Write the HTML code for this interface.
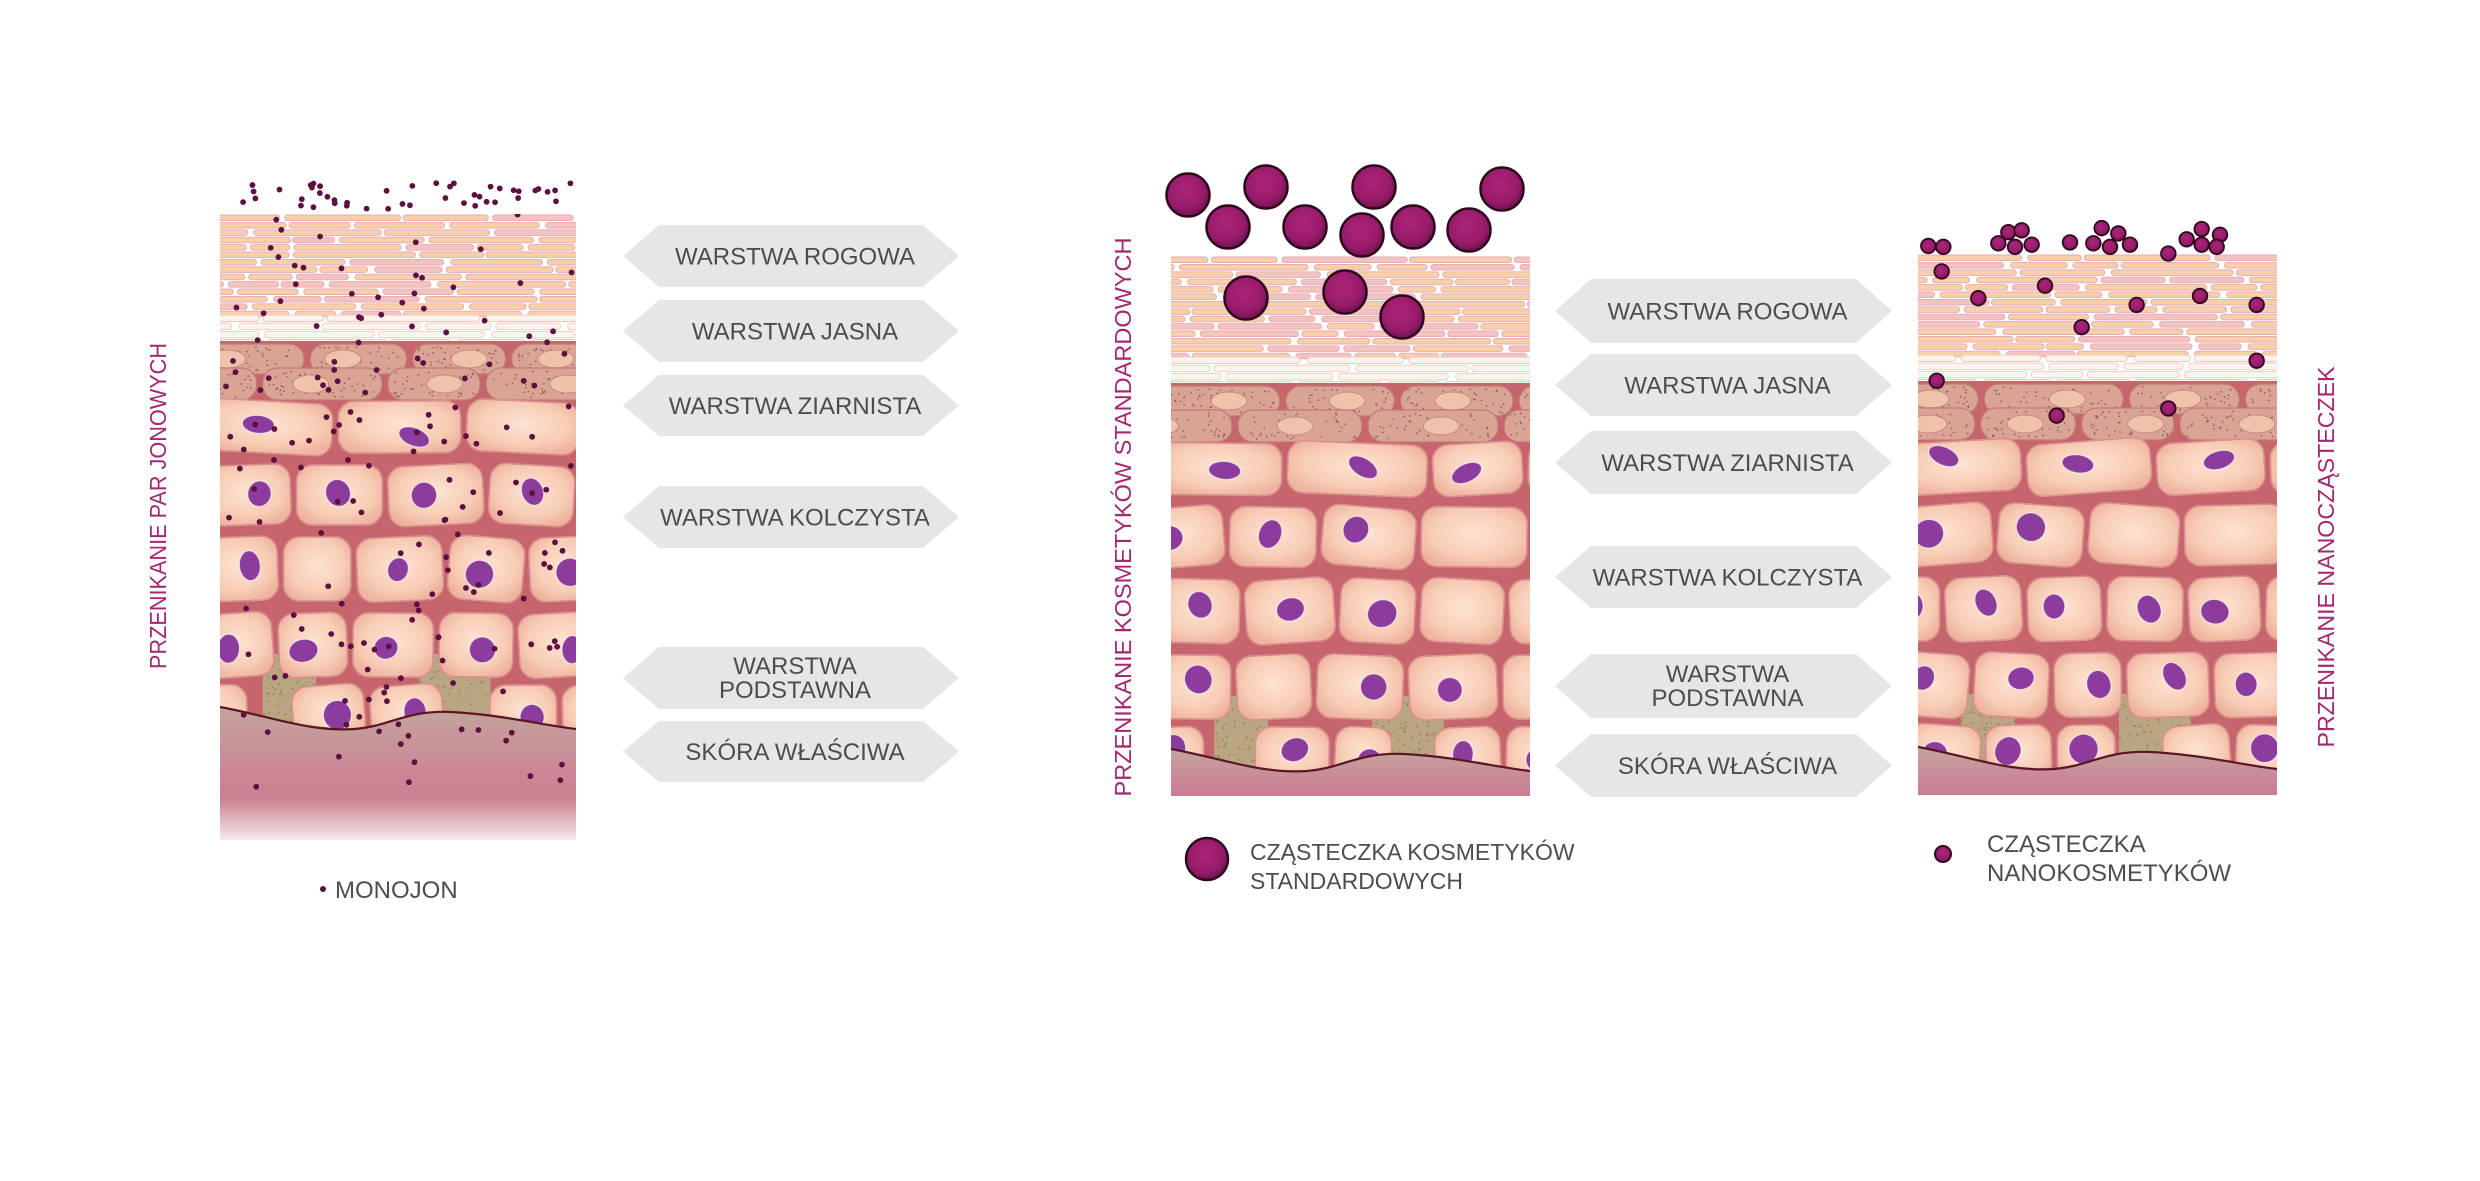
<!DOCTYPE html>
<html><head><meta charset="utf-8">
<style>
html,body{margin:0;padding:0;background:#fff;}
svg{display:block;}
text{font-family:"Liberation Sans","Noto Sans CJK SC",sans-serif;}
</style></head>
<body>
<svg id="s" xmlns="http://www.w3.org/2000/svg" width="2480" height="1181" viewBox="0 0 2480 1181">
<defs>
<radialGradient id="pg" cx="0.45" cy="0.4" r="0.6">
<stop offset="0" stop-color="#ad2479"/><stop offset="0.7" stop-color="#981c6a"/><stop offset="1" stop-color="#6e1250"/>
</radialGradient>
<radialGradient id="cg" cx="0.5" cy="0.45" r="0.6">
<stop offset="0" stop-color="#fde3d3"/><stop offset="0.65" stop-color="#f8cdb6"/><stop offset="1" stop-color="#eeb29d"/>
</radialGradient>
<linearGradient id="dg" x1="0" y1="0" x2="0" y2="1">
<stop offset="0" stop-color="#c3a59b"/><stop offset="0.5" stop-color="#cc8496"/><stop offset="1" stop-color="#c97884"/>
</linearGradient>
<linearGradient id="dg2" x1="0" y1="0" x2="0" y2="1">
<stop offset="0" stop-color="#c4a69c"/><stop offset="0.6" stop-color="#c98a98"/><stop offset="1" stop-color="#c97b92"/>
</linearGradient>
<linearGradient id="fade" x1="0" y1="0" x2="0" y2="1">
<stop offset="0" stop-color="#fff" stop-opacity="0"/><stop offset="1" stop-color="#fff" stop-opacity="1"/>
</linearGradient>
</defs>
<g id="skins"></g>
<g id="arrows"></g>
<g id="parts"></g>

<!-- vertical labels -->
<text transform="translate(166,506) rotate(-90)" text-anchor="middle" font-size="23" fill="#a3286f" textLength="326" lengthAdjust="spacingAndGlyphs">PRZENIKANIE PAR JONOWYCH</text>
<text transform="translate(1131,517) rotate(-90)" text-anchor="middle" font-size="23" fill="#a3286f" textLength="559" lengthAdjust="spacingAndGlyphs">PRZENIKANIE KOSMETYKÓW STANDARDOWYCH</text>
<text transform="translate(2334,557) rotate(-90)" text-anchor="middle" font-size="23" fill="#a3286f" textLength="381" lengthAdjust="spacingAndGlyphs">PRZENIKANIE NANOCZĄSTECZEK</text>

<!-- legends -->
<circle cx="323" cy="889" r="3" fill="#5c1040"/>
<text x="335" y="898" font-size="24" fill="#4d4d4d">MONOJON</text>
<circle cx="1207" cy="859" r="21" fill="url(#pg)" stroke="#2f0a1f" stroke-width="2.5"/>
<text x="1250" y="860" font-size="23" fill="#4d4d4d">CZĄSTECZKA KOSMETYKÓW</text>
<text x="1250" y="889" font-size="23" fill="#4d4d4d">STANDARDOWYCH</text>
<circle cx="1943" cy="854" r="8" fill="url(#pg)" stroke="#2f0a1f" stroke-width="2"/>
<text x="1987" y="852" font-size="24" fill="#4d4d4d">CZĄSTECZKA</text>
<text x="1987" y="881" font-size="24" fill="#4d4d4d">NANOKOSMETYKÓW</text>
</svg>
<script>
var NS="http://www.w3.org/2000/svg";
function el(t,a,p){var e=document.createElementNS(NS,t);for(var k in a)e.setAttribute(k,a[k]);if(p)p.appendChild(e);return e;}
function rng(s){return function(){s|=0;s=s+0x6D2B79F5|0;var t=Math.imul(s^s>>>15,1|s);t=t+Math.imul(t^t>>>7,61|t)^t;return((t^t>>>14)>>>0)/4294967296;};}
var defs=document.querySelector("defs");
function skin(x0,y0,W,H,seed,left){
 var R=rng(seed);
 var cid="c"+seed;
 var cp=el("clipPath",{id:cid},defs);el("rect",{x:0,y:0,width:W,height:H},cp);
 var g=el("g",{transform:"translate("+x0+","+y0+")","clip-path":"url(#"+cid+")"},document.getElementById("skins"));
 el("rect",{x:0,y:0,width:W,height:200,fill:"#fff"},g);
 // corneum stripes
 var i=0;
 for(var y=1;y<100;y+=7.4){var x=-R()*50;
  while(x<W){var l=35+R()*95;el("rect",{x:x,y:y,width:l,height:5.6,rx:2.8,fill:(R()<0.75?"#f9cfa8":"#f4c3bd"),stroke:"#e3a9b9","stroke-width":0.9},g);x+=l+2+R()*5;}i++;}
 for(var y=101;y<126;y+=8.2){var x=-R()*50;
  while(x<W){var l=50+R()*110;el("rect",{x:x,y:y,width:l,height:6.5,rx:3,fill:"#fcf2ee",stroke:"#f1c7c0","stroke-width":0.9},g);x+=l+3+R()*5;}}
 // granular + spinous matrix
 el("rect",{x:0,y:127,width:W,height:H,fill:"#c6666c"},g);
 var gr=[[128,30],[152,32]];
 gr.forEach(function(r,ri){var x=-R()*60-(ri?40:0);
  while(x<W){var l=90+R()*50;
   el("rect",{x:x,y:r[0]+2,width:l,height:r[1],rx:15,fill:"#daa494",stroke:"#c27a76","stroke-width":1.2},g);
   for(var k=0;k<45;k++)el("circle",{cx:x+6+R()*(l-12),cy:r[0]+5+R()*(r[1]-6),r:0.9,fill:"#6e4a48",opacity:0.7},g);
   el("ellipse",{cx:x+l*(0.3+R()*0.4),cy:r[0]+2+r[1]/2,rx:18,ry:9,fill:"#efc2ac",stroke:"#c98a80","stroke-width":1},g);
   x+=l+6;}});
 // basal greenish areas
 var bands=[[0.12,0.27],[0.56,0.76]];
 bands.forEach(function(b){el("rect",{x:W*b[0],y:440,width:W*(b[1]-b[0]),height:90,fill:"#b9a683"},g);
  for(var k=0;k<120;k++)el("circle",{cx:W*b[0]+R()*W*(b[1]-b[0]),cy:445+R()*70,r:1,fill:(R()<0.5?"#8a7a4a":"#d08a50"),opacity:0.7},g);});
 // cells
 var rows=[[184,58,95,150],[248,66,85,115],[320,70,72,95],[396,70,72,95],[468,62,62,85]];
 rows.forEach(function(r,ri){var x=-R()*50;
  while(x<W){var l=r[2]+R()*(r[3]-r[2]);
   var cx=x+l/2;
   if(ri==4){var skip=false;bands.forEach(function(b){if(cx>W*b[0]&&cx<W*b[1]&&R()<0.8)skip=true;});if(skip){x+=l*0.6;continue;}}
   var rot=(R()-0.5)*10;
   var cg=el("g",{transform:"rotate("+rot+","+cx+","+(r[0]+r[1]/2)+")"},g);
   el("rect",{x:x+3,y:r[0]+3,width:l-6,height:r[1]-6,rx:16,fill:"url(#cg)",stroke:"#d98f90","stroke-width":1.6},cg);
   if(R()<0.88){var rx=ri==0?16:10+R()*5,ry=ri==0?9:11+R()*4;
    el("ellipse",{cx:cx+(R()-0.5)*l*0.3,cy:r[0]+r[1]/2+(R()-0.5)*10,rx:rx,ry:ry,fill:"#8b3c9c",stroke:"#fff","stroke-width":1.2,"stroke-opacity":0.6,transform:"rotate("+((R()-0.5)*60)+","+cx+","+(r[0]+r[1]/2)+")"},cg);}
   x+=l;}});
 // dermis
 var p="M0 493 C"+(0.15*W)+" 503 "+(0.25*W)+" 518 "+(0.38*W)+" 515 C"+(0.48*W)+" 512 "+(0.52*W)+" 496 "+(0.65*W)+" 498 C"+(0.8*W)+" 501 "+(0.9*W)+" 511 "+W+" 515";
 el("path",{d:p+" L"+W+" "+H+" L0 "+H+" Z",fill:left?"url(#dg)":"url(#dg2)"},g);
 el("path",{d:p,fill:"none",stroke:"#5b1626","stroke-width":2.2},g);
 if(left){el("rect",{x:0,y:H-50,width:W,height:50,fill:"url(#fade)"},g);el("rect",{x:0,y:H-8,width:W,height:8,fill:"#fff"},g);
  for(var k=0;k<170;k++){var yy=R()*580;el("circle",{cx:4+R()*(W-8),cy:yy,r:2.9,fill:"#5c1040"},g);}
 }
 return g;
}
skin(220,214,356,634,11,true);
skin(1171,256,359,540,23,false);
skin(1918,254,359,541,37,false);
// ion dots above left skin
var R=rng(5),pg=document.getElementById("parts");
for(var k=0;k<45;k++)el("circle",{cx:226+R()*345,cy:183+R()*26,r:2.9,fill:"#5c1040"},pg);
// arrows
var ag=document.getElementById("arrows");
function arrow(x0,x1,y0,y1,lines){var m=(y0+y1)/2,t=36;
 el("polygon",{points:[x0+t,y0,x1-t,y0,x1,m,x1-t,y1,x0+t,y1,x0,m].join(" "),fill:"#e6e6e7"},ag);
 var cx=(x0+x1)/2+4;
 if(lines.length==1){var tx=el("text",{x:cx,y:m+8.5,"text-anchor":"middle","font-size":24,fill:"#4d4d4d"},ag);tx.textContent=lines[0];}
 else{lines.forEach(function(s,i){var tx=el("text",{x:cx,y:m-4+i*24,"text-anchor":"middle","font-size":24,fill:"#4d4d4d"},ag);tx.textContent=s;});}
}
var L=[["WARSTWA ROGOWA"],["WARSTWA JASNA"],["WARSTWA ZIARNISTA"],["WARSTWA KOLCZYSTA"],["WARSTWA","PODSTAWNA"],["SKÓRA WŁAŚCIWA"]];
[[225,287],[300,362],[375,436],[486,548],[647,709],[721,782]].forEach(function(r,i){arrow(623,959,r[0],r[1],L[i]);});
[[279,343],[354,416],[431,494],[546,608],[654,718],[734,797]].forEach(function(r,i){arrow(1555,1892,r[0],r[1],L[i]);});
// big particles
[[1188,195],[1266,187],[1228,227],[1305,227],[1374,187],[1362,235],[1413,227],[1469,230],[1502,189],[1246,298],[1345,292],[1402,317]].forEach(function(c){
 el("circle",{cx:c[0],cy:c[1],r:21.5,fill:"url(#pg)",stroke:"#2f0a1f","stroke-width":2.5},pg);});
// nano particles (zoom coords)
[[85,103],[130,105],[295,97],[325,72],[365,68],[345,105],[395,100],[510,95],[580,97],[605,63],[655,75],[630,105],[690,100],[805,120],[860,88],[905,65],[960,78],[905,100],[950,105],[125,160],[235,220],[435,192],[710,235],[900,215],[1070,235],[545,285],[1070,360],[110,405],[470,483],[805,467]].forEach(function(c){
 el("circle",{cx:1900+c[0]/3,cy:200+c[1]/2.24,r:7.3,fill:"url(#pg)",stroke:"#2f0a1f","stroke-width":1.8},pg);});
</script>
</body></html>
